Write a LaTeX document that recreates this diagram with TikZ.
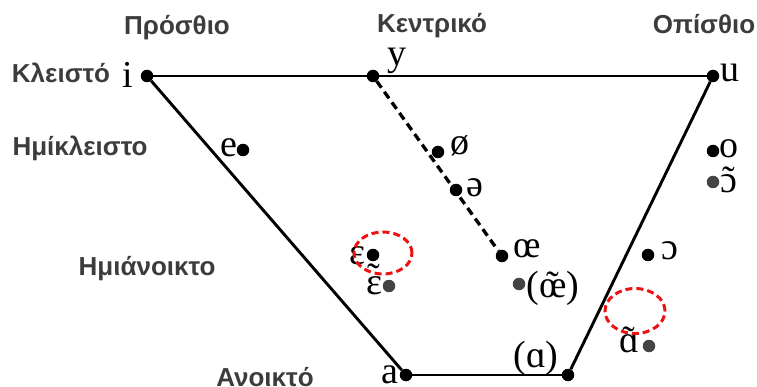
\documentclass[tikz,border=0pt]{standalone}
\usepackage{fontspec}
\usetikzlibrary{shapes.geometric}
\setmainfont{Liberation Serif}
\newfontfamily\grfam{Liberation Sans}
\newfontfamily\ipafam{Liberation Serif}
\definecolor{labgray}{HTML}{3C3C3C}
\definecolor{dotgray}{HTML}{444444}
\definecolor{ringred}{HTML}{EE1111}
\newcommand\nasal[2][0pt]{\ooalign{#2\cr\hidewidth\raisebox{#1}{\char"02DC}\hidewidth\cr}}
\begin{document}
\begin{tikzpicture}[x=1pt,y=-1pt,
  dot/.style={circle,fill=black,inner sep=0pt,minimum size=12.5pt},
  ndot/.style={dot,fill=dotgray},
  ipa/.style={font=\ipafam\fontsize{38}{38}\selectfont,anchor=base,inner sep=0pt},
  axlab/.style={font=\grfam\bfseries\fontsize{26}{26}\selectfont,text=labgray,anchor=base,inner sep=0pt},
  trap/.style={line width=2.9pt},
  ring/.style={draw=ringred,dash pattern=on 7pt off 4pt,line width=3pt}]
\useasboundingbox (0,0) rectangle (757,387);
% axis labels
\node[axlab] (front) at (177,35) {Πρόσθιο};
\node[axlab] (central) at (432,33) {Κεντρικό};
\node[axlab] (back) at (704,34) {Οπίσθιο};
\node[axlab] (close) at (61,83) {Κλειστό};
\node[axlab] (closemid) at (80,156) {Ημίκλειστο};
\node[axlab] (openmid) at (147,276) {Ημιάνοικτο};
\node[axlab] (open) at (265,386) {Ανοικτό};
% corner dots
\node[dot] (di) at (147,76) {};
\node[dot] (dy) at (373,76) {};
\node[dot] (du) at (713,76) {};
\node[dot] (da) at (406,375) {};
\node[dot] (dA) at (568,375) {};
% other dots
\node[dot] (de) at (243,150) {};
\node[dot] (dslo) at (438,152) {};
\node[dot] (dschwa) at (456,190) {};
\node[dot] (doe) at (502,256) {};
\node[ndot] (dnoe) at (519,284) {};
\node[dot] (deps) at (373,255) {};
\node[ndot] (dneps) at (389,286) {};
\node[dot] (do) at (713,151) {};
\node[ndot] (dno) at (713,182) {};
\node[dot] (dopo) at (648,255) {};
\node[ndot] (dnA) at (649,346) {};
% trapezoid
\draw[trap] (di) -- (du);
\draw[trap] (di) -- (da);
\draw[trap] (da) -- (dA);
\draw[trap] (dA) -- (du);
\draw[line width=3.3pt,dash pattern=on 8pt off 5pt] (dy) -- (doe);
% labels
\node[ipa] (li) at (128,88) {i};
\node[ipa] (ly) at (397,66) {y};
\node[ipa] (lu) at (730,82) {u};
\node[ipa] (le) at (229,157) {e};
\node[ipa] (lslo) at (460,155) {ø};
\node[ipa] (lschwa) at (475,197) {ə};
\node[ipa] (loe) at (527,258) {œ};
\node[ipa] (lnoe) at (553,297) {(\nasal{œ})};
\node[ipa] (leps) at (357,265) {ε};
\node[ipa] (lneps) at (374,294) {\nasal[5pt]{ε}};
\node[ipa] (lo) at (729,158) {o};
\node[ipa] (lno) at (729,193) {\nasal{ɔ}};
\node[ipa] (lopo) at (670,260) {ɔ};
\node[ipa] (lnA) at (629,352) {\nasal{ɑ}};
\node[ipa] (la) at (390,383) {a};
\node[ipa] (lA) at (536,367) {(ɑ)};
% red dashed rings
\node[ring,ellipse,minimum width=58pt,minimum height=42pt,inner sep=0pt] (r1) at (383,253) {};
\node[ring,ellipse,minimum width=60pt,minimum height=45pt,inner sep=0pt] (r2) at (635,311) {};
\end{tikzpicture}
\end{document}
